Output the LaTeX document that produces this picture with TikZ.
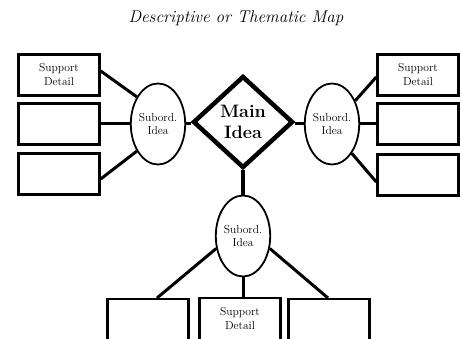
\documentclass[tikz,border=0pt]{standalone}
\usetikzlibrary{shapes.geometric}
\begin{document}
\begin{tikzpicture}[x=1pt,y=-1pt,
  boxnode/.style={draw,rectangle,line width=2.4pt,minimum width=81pt,minimum height=41pt,inner sep=0pt},
  subnode/.style={draw,ellipse,line width=1.8pt,minimum width=50pt,minimum height=81pt,inner sep=0pt,font=\fontsize{11.5}{13}\selectfont,align=center},
  mainnode/.style={draw,diamond,line width=4.5pt,minimum width=100pt,minimum height=92pt,inner sep=0pt,miter limit=20,font=\fontsize{18}{21}\selectfont\bfseries,align=center},
  txt/.style={font=\fontsize{11.5}{14}\selectfont,align=center,inner sep=0pt},
  link/.style={line width=3pt},
  thick link/.style={line width=4pt}]
\useasboundingbox (0,0) rectangle (460,339);
\clip (0,0) rectangle (460,339);
\node[font=\fontsize{17}{20}\selectfont\itshape] (title) at (236,18) {Descriptive or Thematic Map};
% main
\node[mainnode] (M) at (243,122) {Main\\Idea};
% subordinate ideas
\node[subnode] (L) at (158,124) {Subord.\\Idea};
\node[subnode] (R) at (332,124) {Subord.\\Idea};
\node[subnode] (B) at (243,236) {Subord.\\Idea};
% left boxes
\node[boxnode,txt] (L1) at (59,75) {Support\\Detail};
\node[boxnode] (L2) at (59,124) {};
\node[boxnode] (L3) at (59,174) {};
% right boxes
\node[boxnode,txt] (R1) at (418,75) {Support\\Detail};
\node[boxnode] (R2) at (418,124) {};
\node[boxnode] (R3) at (418,175) {};
% bottom boxes (cut by the page edge)
\node[boxnode,minimum height=70pt,anchor=north] (B1) at (148,298) {};
\node[boxnode,minimum height=70pt,anchor=north] (B2) at (240,297) {};
\node[boxnode,minimum height=70pt,anchor=north] (B3) at (329,298) {};
\node[txt,anchor=north] (B2t) at ([yshift=-10pt]B2.north) {Support\\Detail};
% connectors to main
\draw[link] (L.east) -- (L.east -| M.west);
\draw[link] (R.west) -- (R.west -| M.east);
\draw[thick link] (M.south) -- (B.north);
% left connectors
\draw[link] ([yshift=4pt]L1.east) -- (L.128);
\draw[link] (L2.east) -- (L.west);
\draw[link] ([yshift=-5pt]L3.east) -- (L.232);
% right connectors
\draw[link] ([yshift=-2pt]R1.west) -- (R.45);
\draw[link] (R2.west) -- (R.east);
\draw[link] ([yshift=-7pt]R3.west) -- (R.304);
% bottom connectors
\draw[link] (B.205) -- ([xshift=9pt]B1.north);
\draw[link] (B.south) -- (B.south |- B2.north);
\draw[link] (B.335) -- ([xshift=-1pt]B3.north);
\end{tikzpicture}
\end{document}
